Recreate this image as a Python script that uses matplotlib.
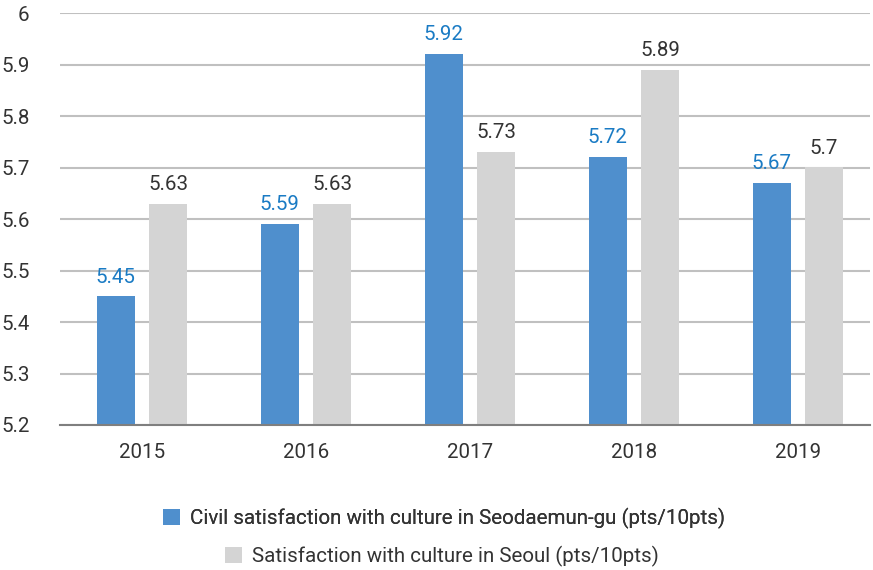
import matplotlib
matplotlib.use("Agg")
import matplotlib.pyplot as plt
import numpy as np

plt.rcParams['font.family'] = ['Roboto', 'DejaVu Sans']

years = ["2015", "2016", "2017", "2018", "2019"]
seodaemun = [5.45, 5.59, 5.92, 5.72, 5.67]
seoul = [5.63, 5.63, 5.73, 5.89, 5.70]
seodaemun_labels = ["5.45", "5.59", "5.92", "5.72", "5.67"]
seoul_labels = ["5.63", "5.63", "5.73", "5.89", "5.7"]
name1 = "Civil satisfaction with culture in Seodaemun-gu (pts/10pts)"
name2 = "Satisfaction with culture in Seoul (pts/10pts)"

blue = "#4f8fcd"
gray = "#d4d4d4"
fs = 14.8

fig = plt.figure(figsize=(8.73, 5.70), dpi=100)
ax = fig.add_axes([60/873, 145/570, 810/873, 412/570])

x = np.arange(len(years))
w = 0.232
off = 0.16
base = 5.2
b1 = ax.bar(x - off, np.array(seodaemun) - base, w, bottom=base, color=blue, label=name1, zorder=3)
b2 = ax.bar(x + off, np.array(seoul) - base, w, bottom=base, color=gray, label=name2, zorder=3)

for xi, v, t in zip(x, seodaemun, seodaemun_labels):
    ax.annotate(t, (xi - off, v), xytext=(0, 7), textcoords="offset points",
                ha="center", va="bottom", fontsize=fs, color="#1a7bc4")
for xi, v, t in zip(x, seoul, seoul_labels):
    ax.annotate(t, (xi + off, v), xytext=(0, 7), textcoords="offset points",
                ha="center", va="bottom", fontsize=fs, color="#333333")

ax.set_ylim(5.2, 6.0)
ax.set_yticks(np.arange(5.2, 6.01, 0.1))
ax.set_yticklabels(["5.2", "5.3", "5.4", "5.5", "5.6", "5.7", "5.8", "5.9", "6"])
ax.set_xlim(-0.5, 4.44)
ax.set_xticks(x)
ax.set_xticklabels(years)
ax.tick_params(axis="both", length=0, labelsize=fs, colors="#333333")
ax.tick_params(axis="y", pad=22)
ax.tick_params(axis="x", pad=13)
ax.yaxis.grid(True, color="#c0c0c0", linewidth=1.5, zorder=0)
ax.set_axisbelow(True)
for s in ["top", "right", "left"]:
    ax.spines[s].set_visible(False)
ax.spines["bottom"].set_color("#7f7f7f")
ax.spines["bottom"].set_linewidth(1.5)
ax.spines["bottom"].set_zorder(4)

leg1 = fig.legend(handles=[b1], labels=[name1], loc="center",
                  bbox_to_anchor=(444/873, 1 - 518/570), frameon=False,
                  fontsize=fs, handlelength=0.8, handleheight=0.8, handletextpad=0.5,
                  labelcolor="#333333")
fig.add_artist(leg1)
leg2 = fig.legend(handles=[b2], labels=[name2], loc="center",
                  bbox_to_anchor=(442/873, 1 - 556/570), frameon=False,
                  fontsize=fs, handlelength=0.8, handleheight=0.8, handletextpad=0.5,
                  labelcolor="#333333")

fig.savefig("out.png", dpi=100)
